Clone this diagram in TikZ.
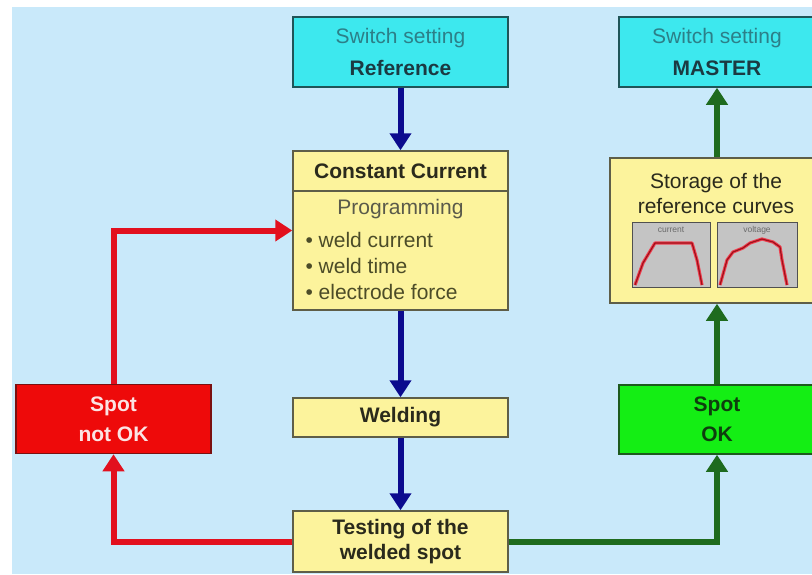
\documentclass[tikz,border=0pt]{standalone}
\usepackage{fontspec}
\setmainfont{Liberation Sans}
\usetikzlibrary{arrows.meta}

\definecolor{bgblue}{HTML}{C9E9FA}
\definecolor{cyanfill}{HTML}{3DE8EE}
\definecolor{cyanedge}{HTML}{1F5558}
\definecolor{cyantext}{HTML}{2C7F88}
\definecolor{cyanbold}{HTML}{1B3A42}
\definecolor{yellowfill}{HTML}{FCF39C}
\definecolor{yellowedge}{HTML}{5E5E48}
\definecolor{darktext}{HTML}{2A2A1C}
\definecolor{softtext}{HTML}{5A5A4A}
\definecolor{olivetext}{HTML}{4C4C28}
\definecolor{redfill}{HTML}{EE0A0A}
\definecolor{rededge}{HTML}{7A1010}
\definecolor{redtext}{HTML}{FBE4E4}
\definecolor{greenfill}{HTML}{14EE14}
\definecolor{greenedge}{HTML}{1D5A1D}
\definecolor{greentext}{HTML}{0E3E0E}
\definecolor{navy}{HTML}{0B0B8E}
\definecolor{flowred}{HTML}{E2101E}
\definecolor{flowgreen}{HTML}{1E6B1E}
\definecolor{plotgray}{HTML}{C4C4C4}
\definecolor{plotedge}{HTML}{505050}
\definecolor{labelgray}{HTML}{6A6A6A}
\definecolor{curvedark}{HTML}{A0101A}
\definecolor{curvepink}{HTML}{F04050}

\begin{document}
\begin{tikzpicture}[x=1pt,y=-1pt,
  every node/.style={font=\fontsize{21}{25}\selectfont},
  box/.style={draw, line width=1.5pt, rectangle, inner sep=0pt, align=center},
  switchbox/.style={box, fill=cyanfill, draw=cyanedge, text=cyantext,
    font=\fontsize{21}{32}\selectfont},
  stepbox/.style={box, fill=yellowfill, draw=yellowedge, text=darktext,
    font=\bfseries\fontsize{21}{25}\selectfont, minimum width=215},
  verdict/.style={box, font=\bfseries\fontsize{21}{30}\selectfont,
    minimum width=196, minimum height=69},
  flow/.style={line width=6pt, -{Triangle[width=21pt,length=17pt]}},
  plotbox/.style={draw=plotedge, line width=1pt, fill=plotgray},
  haloline/.style={draw=curvepink, line width=3.2pt, line join=round},
  traceline/.style={draw=curvedark, line width=1.2pt, line join=round}]

\useasboundingbox (0,0) rectangle (812,574);
\clip (0,0) rectangle (812,574);
\fill[bgblue] (12,7) rectangle (812,574);

% switch settings
\node[switchbox, minimum width=215, minimum height=70] (ref) at (400.5,52)
  {Switch setting\\\textcolor{cyanbold}{\bfseries Reference}};
\node[switchbox, minimum width=196, minimum height=70] (master) at (717,52)
  {Switch setting\\\textcolor{cyanbold}{\bfseries MASTER}};

% constant current programming box
\node[stepbox, minimum height=159] (cc) at (400.5,230.5) {};
\coordinate (divy) at (0,191);
\draw[yellowedge, line width=1.2pt] (cc.west |- divy) -- (cc.east |- divy);
\node[text=darktext, font=\bfseries\fontsize{21}{25}\selectfont] (cchead) at (400.5,171) {Constant Current};
\node[text=softtext] (prog) at (400.5,209) {Programming};
\node[text=olivetext, anchor=west] (b1) at (302,240) {\textbullet\ weld current};
\node[text=olivetext, anchor=west] (b2) at (302,266) {\textbullet\ weld time};
\node[text=olivetext, anchor=west] (b3) at (302,292) {\textbullet\ electrode force};

\node[stepbox, minimum height=39] (weld) at (400.5,417.5) {Welding};
\node[stepbox, minimum height=61] (test) at (400.5,541.5) {Testing of the\\welded spot};

% verdicts
\node[verdict, fill=redfill, draw=rededge, text=redtext, minimum width=195] (notok) at (113.5,419) {Spot\\not OK};
\node[verdict, fill=greenfill, draw=greenedge, text=greentext] (ok) at (717,419.5) {Spot\\OK};

% storage of the reference curves
\node[box, fill=yellowfill, draw=yellowedge, minimum width=214, minimum height=145] (store) at (717,230.5) {};
\node[text=darktext, align=center, font=\fontsize{21}{25}\selectfont] (storetxt) at (716,193.5) {Storage of the\\reference curves};
\draw[plotbox] (632,222) rectangle (710,287);
\draw[plotbox] (717,222) rectangle (797,287);
\node[text=labelgray, font=\fontsize{8.5}{9}\selectfont] (curlbl) at (671,230) {current};
\node[text=labelgray, font=\fontsize{8.5}{9}\selectfont] (vollbl) at (757,230) {voltage};
\draw[haloline] (635,285) -- (643,263) -- (655,243) -- (692,243) -- (697,260) -- (702,285);
\draw[traceline] (635,285) -- (643,263) -- (655,243) -- (692,243) -- (697,260) -- (702,285);
\draw[haloline] (720,285) -- (727,260) -- (733,252) -- (743,248) -- (750,243) -- (762,239) -- (773,242) -- (780,247) -- (782,260) -- (787,285);
\draw[traceline] (720,285) -- (727,260) -- (733,252) -- (743,248) -- (750,243) -- (762,239) -- (773,242) -- (780,247) -- (782,260) -- (787,285);

% main flow
\draw[flow, navy] (ref.south) -- (cc.north);
\draw[flow, navy] (cc.south) -- (weld.north);
\draw[flow, navy] (weld.south) -- (test.north);

% rejected spot: back to programming
\draw[flow, flowred] (test.west) -| (notok.south);
\draw[flow, flowred] (notok.north) |- (cc.west);

% accepted spot: store curves, switch to master
\draw[flow, flowgreen] (test.east) -| (ok.south);
\draw[flow, flowgreen] (ok.north) -- (store.south);
\draw[flow, flowgreen] (store.north) -- (master.south);
\end{tikzpicture}
\end{document}
